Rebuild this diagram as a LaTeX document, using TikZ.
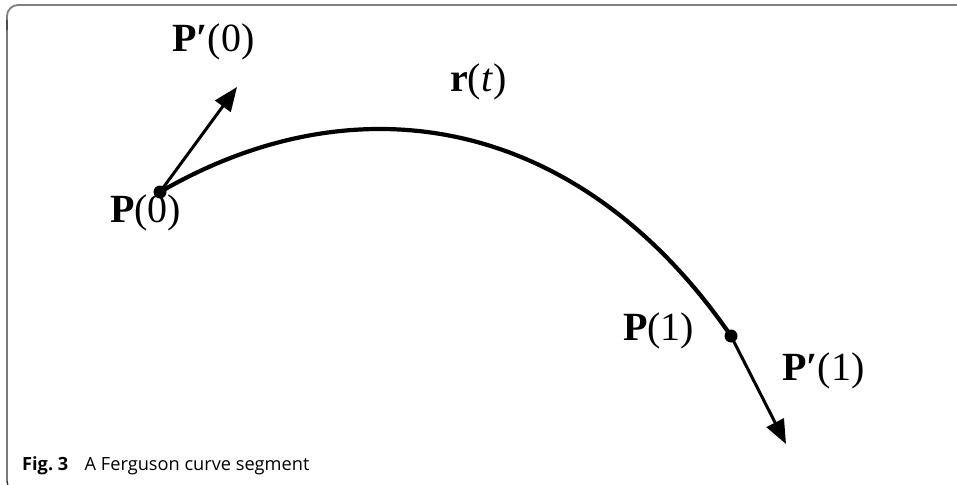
\documentclass[tikz,border=0pt]{standalone}
\usepackage{fontspec}
\setmainfont{Liberation Serif}
\newfontfamily\capfont{Open Sans}
\usetikzlibrary{arrows.meta}
\tikzset{
  lbl/.style={inner sep=0pt, anchor=base west, font=\fontsize{40}{42}\selectfont},
  curveline/.style={line width=4.2pt, black},
  tanarrow/.style={line width=3pt, -{Triangle[length=24pt,width=19pt]}},
  ptdot/.style={circle, fill=black, inner sep=0pt, minimum size=13pt},
  topframe/.style={draw=gray, line width=1.8pt},
  leftframe/.style={draw=black!80, line width=1.4pt}
}
\begin{document}
\begin{tikzpicture}[x=1pt,y=-1pt]
\useasboundingbox (0,0) rectangle (957,484);
% frame
\coordinate (ftr) at (960,5);
\coordinate (ftl) at (7,5);
\coordinate (fbl) at (7,492);
\coordinate (fbr) at (30,492);
\draw[topframe, rounded corners=11pt] (ftr) -- (ftl) -- (7,30);
\draw[leftframe, rounded corners=11pt] (7,20) -- (fbl) -- (fbr);
% points
\node[ptdot] (p0) at (160,192) {};
\node[ptdot] (p1) at (731,336) {};
\coordinate (t0) at (237,87);
\coordinate (t1) at (786,444);
% curve
\draw[curveline] (p0.center) .. controls (360,76) and (581,118) .. (p1.center);
% tangents
\draw[tanarrow] (p0.center) -- (t0);
\draw[tanarrow] (p1.center) -- (t1);
% labels
\node[lbl] (l0) at (110,222) {\textbf{P}(0)};
\node[lbl] (l0p) at (172,52) {\textbf{P\char"2032}(0)};
\node[lbl] (lr) at (450,92) {\textbf{r}(\textit{t})};
\node[lbl] (l1) at (623,340) {\textbf{P}(1)};
\node[lbl] (l1p) at (782,380) {\textbf{P\char"2032}(1)};
% caption
\node[inner sep=0pt, anchor=base west, font=\capfont\fontsize{18.2}{20}\selectfont] (cap) at (22,470) {\textbf{Fig.~3}\hspace{0.9em}A Ferguson curve segment};
\end{tikzpicture}
\end{document}
